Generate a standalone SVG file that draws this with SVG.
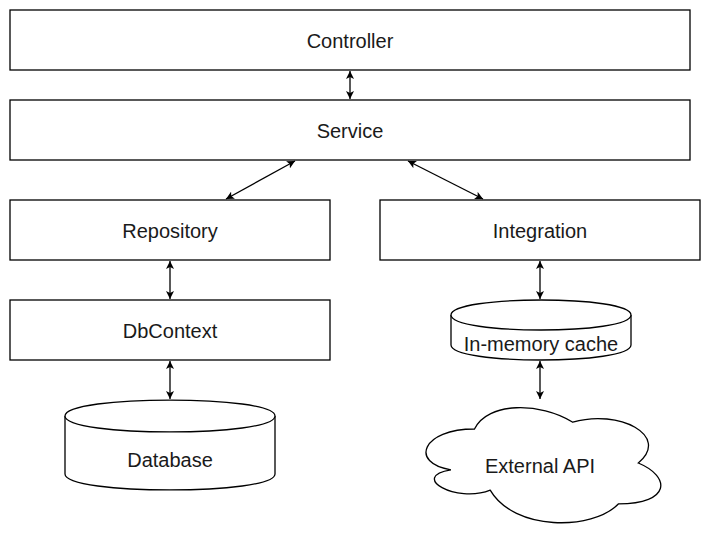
<svg xmlns="http://www.w3.org/2000/svg" width="711" height="541" viewBox="0 0 711 541">
<style>
.n{fill:#ffffff;stroke:#000000;stroke-width:1.3}
.t{font-family:"Liberation Sans",Arial,sans-serif;font-size:20px;fill:#1a1a1a;text-anchor:middle;dominant-baseline:central}
.c{fill:none;stroke:#000000;stroke-width:1.3;marker-start:url(#ah);marker-end:url(#ah)}
</style>
<defs>
<marker id="ah" viewBox="0 0 10 10" refX="10" refY="5" markerUnits="userSpaceOnUse" markerWidth="8" markerHeight="8" orient="auto-start-reverse">
<path d="M0,0 L10,5 L0,10 L2.5,5 Z" fill="#000000"/>
</marker>
</defs>
<rect width="711" height="541" fill="#ffffff"/>
<g id="connectors">
<line class="c" x1="350" y1="71" x2="350" y2="99"/>
<line class="c" x1="295" y1="161" x2="226" y2="199"/>
<line class="c" x1="408" y1="161" x2="483" y2="199"/>
<line class="c" x1="170" y1="261" x2="170" y2="299"/>
<line class="c" x1="170" y1="361" x2="170" y2="399"/>
<line class="c" x1="540" y1="261" x2="540" y2="299"/>
<line class="c" x1="540" y1="361" x2="540" y2="399"/>
</g>
<g id="controller">
<rect class="n" x="10" y="10" width="680" height="60"/>
<text class="t" x="350" y="41">Controller</text>
</g>
<g id="service">
<rect class="n" x="10" y="100" width="680" height="60"/>
<text class="t" x="350" y="131">Service</text>
</g>
<g id="repository">
<rect class="n" x="10" y="200" width="320" height="60"/>
<text class="t" x="170" y="231">Repository</text>
</g>
<g id="integration">
<rect class="n" x="380" y="200" width="320" height="60"/>
<text class="t" x="540" y="231">Integration</text>
</g>
<g id="dbcontext">
<rect class="n" x="10" y="300" width="320" height="60"/>
<text class="t" x="170" y="331">DbContext</text>
</g>
<g id="database">
<path class="n" d="M65,416 C65,394.7 275,394.7 275,416 L275,474 C275,495.3 65,495.3 65,474 Z"/>
<path class="n" fill="none" d="M65,416 C65,437.3 275,437.3 275,416"/>
<text class="t" x="170" y="460">Database</text>
</g>
<g id="cache">
<path class="n" d="M451,315 C451,295 631,295 631,315 L631,345 C631,365 451,365 451,345 Z"/>
<path class="n" fill="none" d="M451,315 C451,335 631,335 631,315"/>
<text class="t" x="541" y="344">In-memory cache</text>
</g>
<g id="external-api">
<path class="n" d="M474.5,429 C422.1,429 409,463 450.9,469.8 C409,476.6 456.2,503.8 490.2,490.2 C513.8,531 592.4,531 618.6,503.8 C671,503.8 671,476.6 638.3,463 C671,435.8 618.6,408.6 572.8,422.2 C540,401.8 487.6,401.8 474.5,429 Z"/>
<text class="t" x="540" y="466">External API</text>
</g>
</svg>
